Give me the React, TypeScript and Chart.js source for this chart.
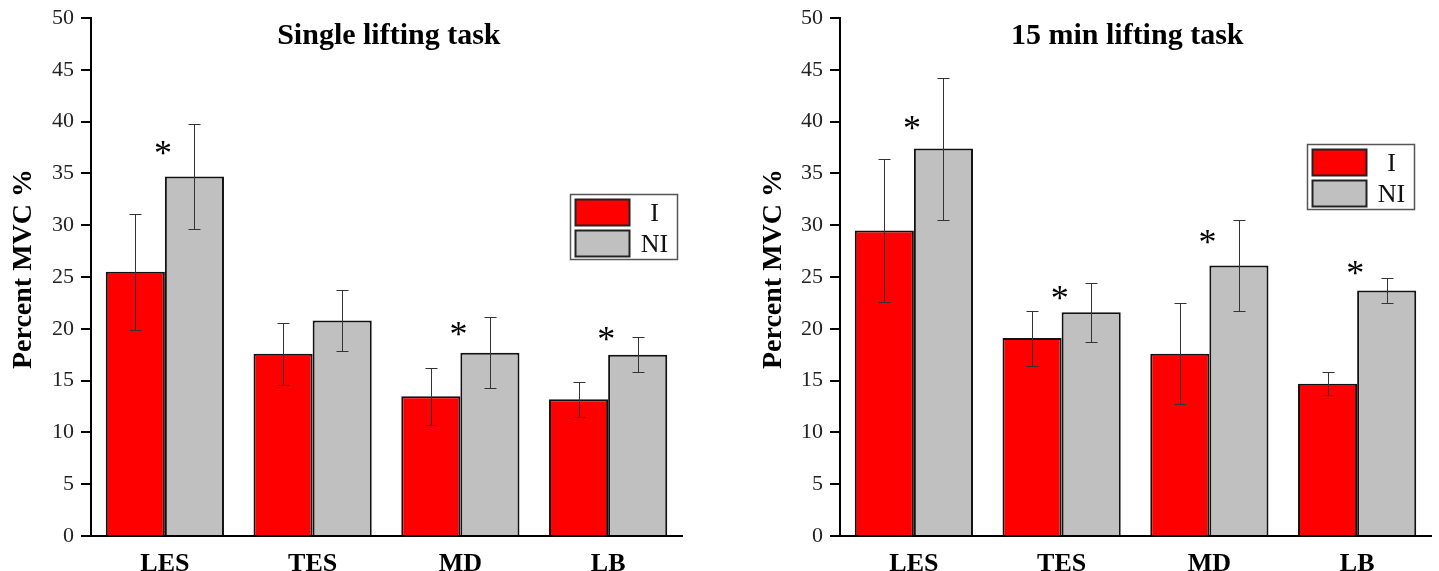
import React, { useEffect, useRef } from "react";
import { Chart, registerables } from "chart.js";

Chart.register(...registerables);

const categories = ["LES", "TES", "MD", "LB"];
const seriesNames = ["I", "NI"];
const seriesColors = ["#ff0000", "#c0c0c0"];
const yMin = 0;
const yMax = 50;
const yStep = 5;
const yTitle = "Percent MVC %";

// Single lifting task
const singleTitle = "Single lifting task";
const singleI = [25.5, 17.6, 13.5, 13.2];
const singleISd = [5.6, 3.0, 2.75, 1.7];
const singleNI = [34.7, 20.8, 17.7, 17.5];
const singleNISd = [5.1, 2.9, 3.4, 1.7];
const singleSig = [37.5, null, 20.0, 19.5];

// 15 min lifting task
const minTitle = "15 min lifting task";
const minI = [29.5, 19.1, 17.6, 14.7];
const minISd = [6.9, 2.65, 4.85, 1.1];
const minNI = [37.4, 21.6, 26.1, 23.7];
const minNISd = [6.85, 2.85, 4.4, 1.2];
const minSig = [39.9, 23.5, 28.9, 25.9];

const SERIF = '"Liberation Serif", "Times New Roman", serif';

const decorPlugin = {
  id: "decor",
  afterDatasetsDraw(chart: any, _args: any, opts: any) {
    const ctx = chart.ctx;
    const y = chart.scales.y;
    ctx.save();
    ctx.strokeStyle = "#333";
    ctx.lineWidth = 1;
    chart.data.datasets.forEach((ds: any, di: number) => {
      const meta = chart.getDatasetMeta(di);
      const errs = opts.errors[di];
      meta.data.forEach((bar: any, i: number) => {
        const v = ds.data[i];
        const e = errs[i];
        const yt = Math.round(y.getPixelForValue(v + e)) + 0.5;
        const yb = Math.round(y.getPixelForValue(v - e)) + 0.5;
        const cx = Math.round(bar.x) + 0.5;
        ctx.beginPath();
        ctx.moveTo(cx, yt);
        ctx.lineTo(cx, yb);
        ctx.moveTo(cx - 6, yt);
        ctx.lineTo(cx + 6, yt);
        ctx.moveTo(cx - 6, yb);
        ctx.lineTo(cx + 6, yb);
        ctx.stroke();
      });
    });
    ctx.restore();
  },
  afterDraw(chart: any, _args: any, opts: any) {
    const ctx = chart.ctx;
    const ca = chart.chartArea;
    const x = chart.scales.x;
    const y = chart.scales.y;
    const centerText = (text: string, cx: number, cy: number) => {
      const m = ctx.measureText(text);
      const yy = cy + (m.actualBoundingBoxAscent - m.actualBoundingBoxDescent) / 2;
      ctx.fillText(text, cx, yy);
    };
    ctx.save();
    ctx.textAlign = "center";
    ctx.textBaseline = "alphabetic";
    ctx.fillStyle = "#000";

    // y-axis title
    ctx.save();
    ctx.font = `bold 28px ${SERIF}`;
    ctx.translate(opts.yTitleX, (ca.top + ca.bottom) / 2 - 8);
    ctx.rotate(-Math.PI / 2);
    centerText(yTitle, 0, 0);
    ctx.restore();

    // significance asterisks
    ctx.font = `36px ${SERIF}`;
    opts.sig.forEach((s: number | null, i: number) => {
      if (s == null) return;
      centerText("*", x.getPixelForValue(i) - 2, y.getPixelForValue(s));
    });

    // chart title
    ctx.font = `bold 30px ${SERIF}`;
    centerText(opts.title, ca.left + opts.titleFrac * (ca.right - ca.left), ca.top + 18);

    // legend
    const bx = Math.round(ca.left + opts.legendFrac[0] * (ca.right - ca.left)) + 0.5;
    const by = Math.round(ca.top + opts.legendFrac[1] * (ca.bottom - ca.top)) + 0.5;
    const bw = 107;
    const bh = 65;
    ctx.fillStyle = "#fff";
    ctx.fillRect(bx, by, bw, bh);
    ctx.strokeStyle = "#555";
    ctx.lineWidth = 1.5;
    ctx.strokeRect(bx, by, bw, bh);
    seriesNames.forEach((name, i) => {
      const sy = by + 5 + i * 31;
      ctx.fillStyle = seriesColors[i];
      ctx.fillRect(bx + 5, sy, 54, 26);
      ctx.strokeStyle = "#222";
      ctx.lineWidth = 2;
      ctx.strokeRect(bx + 5, sy, 54, 26);
      ctx.fillStyle = "#111";
      ctx.font = `26px ${SERIF}`;
      centerText(name, bx + 84, sy + 13);
    });
    ctx.restore();
  },
};

type PanelProps = {
  title: string;
  dataI: number[];
  dataNI: number[];
  errI: number[];
  errNI: number[];
  sig: (number | null)[];
  titleFrac: number;
  legendFrac: [number, number];
  yWidth: number;
  padRight: number;
  yTitleX: number;
};

function BarPanel(p: PanelProps) {
  const ref = useRef<HTMLCanvasElement | null>(null);
  useEffect(() => {
    if (!ref.current) return;
    const chart = new Chart(ref.current, {
      type: "bar",
      data: {
        labels: categories,
        datasets: [
          {
            label: seriesNames[0],
            data: p.dataI,
            backgroundColor: seriesColors[0],
            borderColor: "#111",
            borderWidth: 2,
            categoryPercentage: 0.8,
            barPercentage: 1.0,
          },
          {
            label: seriesNames[1],
            data: p.dataNI,
            backgroundColor: seriesColors[1],
            borderColor: "#111",
            borderWidth: 2,
            categoryPercentage: 0.8,
            barPercentage: 1.0,
          },
        ],
      },
      options: {
        animation: false,
        responsive: true,
        maintainAspectRatio: false,
        layout: { padding: { top: 16, right: p.padRight, bottom: 0, left: 0 } },
        plugins: {
          legend: { display: false },
          tooltip: { enabled: false },
          title: { display: false },
          decor: {
            title: p.title,
            titleFrac: p.titleFrac,
            legendFrac: p.legendFrac,
            errors: [p.errI, p.errNI],
            sig: p.sig,
            yTitleX: p.yTitleX,
          },
        } as any,
        scales: {
          x: {
            offset: true,
            grid: { display: false },
            border: { display: true, color: "#000", width: 2 },
            ticks: {
              font: { family: SERIF, size: 26, weight: "bold" },
              color: "#000",
              padding: 5,
            },
            afterFit: (s: any) => {
              s.height = 35;
            },
          },
          y: {
            min: yMin,
            max: yMax,
            ticks: {
              stepSize: yStep,
              font: { family: SERIF, size: 22, lineHeight: 1 },
              color: "#222",
              padding: 7,
            },
            grid: {
              drawOnChartArea: false,
              drawTicks: true,
              tickLength: 10,
              color: "#000",
              lineWidth: 2,
            },
            border: { display: true, color: "#000", width: 2 },
            title: { display: false },
            afterFit: (s: any) => {
              s.width = p.yWidth;
            },
          },
        },
      } as any,
      plugins: [decorPlugin as any],
    });
    return () => chart.destroy();
  }, []);
  return <canvas ref={ref} />;
}

export default function App() {
  return (
    <div
      style={{
        position: "fixed",
        left: 0,
        top: 0,
        width: 1439,
        height: 571,
        display: "flex",
        background: "#fff",
      }}
    >
      <div style={{ position: "relative", width: 720, height: 571 }}>
        <BarPanel
          title={singleTitle}
          dataI={singleI}
          dataNI={singleNI}
          errI={singleISd}
          errNI={singleNISd}
          sig={singleSig}
          titleFrac={0.504}
          legendFrac={[0.81, 0.34]}
          yWidth={91}
          padRight={38}
          yTitleX={22}
        />
      </div>
      <div style={{ position: "relative", width: 719, height: 571 }}>
        <BarPanel
          title={minTitle}
          dataI={minI}
          dataNI={minNI}
          errI={minISd}
          errNI={minNISd}
          sig={minSig}
          titleFrac={0.486}
          legendFrac={[0.79, 0.244]}
          yWidth={120}
          padRight={8}
          yTitleX={52}
        />
      </div>
    </div>
  );
}
